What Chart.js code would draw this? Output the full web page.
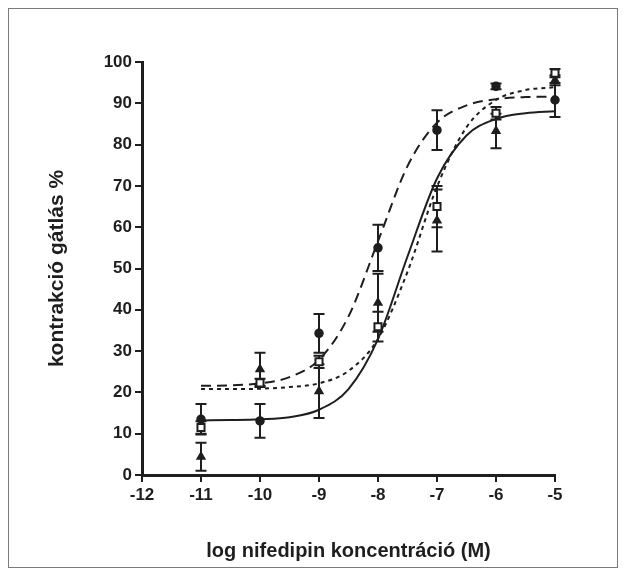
<!DOCTYPE html>
<html>
<head>
<meta charset="utf-8">
<script src="https://cdn.jsdelivr.net/npm/chart.js@4"></script>
<style>
html, body { margin: 0; padding: 0; background: #fff; }
#wrap { position: relative; width: 626px; height: 576px; }
#frame { position: absolute; left: 8px; top: 8px; width: 608px; height: 558px; border: 1px solid #7a7a7a; }
canvas { position: absolute; left: 0; top: 0; }
</style>
</head>
<body>
<div id="wrap">
  <div id="frame"></div>
  <canvas id="chart" width="626" height="576"></canvas>
</div>
<script>
// measured points (log M) with error bars
const concentrations = [-11, -10, -9, -8, -7, -6, -5];
const circleMean = [13.5, 13.1, 34.3, 55.0, 83.5, 94.1, 90.8];
const circleErr = [3.7, 4.1, 4.7, 5.6, 4.8, 0.7, 4.1];
const triangleMean = [4.4, 25.6, 20.3, 41.7, 61.6, 83.3, 95.6];
const triangleErr = [3.4, 4.0, 6.5, 7.0, 7.5, 4.2, 1.2];
const squareMean = [11.5, 22.3, 27.4, 35.9, 65.0, 87.6, 97.3];
const squareErr = [1.5, 1.0, 1.5, 3.6, 5.0, 1.5, 1.0];

// fitted curves
const curveX = [-11, -10.5, -10, -9.5, -9, -8.5, -8, -7.5, -7, -6.5, -6, -5.5, -5];
const solidCurve = [13.2, 13.3, 13.5, 14.0, 15.8, 20.8, 32.9, 52.9, 71.8, 82.2, 86.2, 87.6, 88.1];
const longDashCurve = [21.6, 21.7, 22.2, 23.7, 27.9, 38.4, 56.6, 74.8, 85.3, 89.5, 91.0, 91.5, 91.6];
const shortDashCurve = [20.8, 20.8, 20.9, 21.3, 22.2, 25.2, 33.0, 49.2, 69.8, 84.2, 90.8, 93.2, 93.9];

const ink = '#1e1e1e';
const fontFamily = '"Liberation Sans", Arial, Helvetica, sans-serif';

const toPoints = (xs, ys) => xs.map((x, i) => ({ x: x, y: ys[i] }));

const curve = (values, dash) => ({
    data: toPoints(curveX, values),
    showLine: true,
    borderColor: ink,
    borderWidth: 2,
    borderDash: dash,
    pointRadius: 0,
    cubicInterpolationMode: 'monotone',
    fill: false,
    order: 2
});

const markers = (values, errs, style, radius, bg, bw) => ({
    data: toPoints(concentrations, values),
    errors: errs,
    showLine: false,
    pointStyle: style,
    pointRadius: radius,
    pointBackgroundColor: bg,
    pointBorderColor: ink,
    pointBorderWidth: bw,
    clip: false,
    order: 0
});

// draws vertical error bars with caps under the markers
const errorBars = {
    id: 'errorBars',
    beforeDatasetsDraw(chart) {
        const { ctx, scales: { x, y } } = chart;
        ctx.save();
        ctx.strokeStyle = ink;
        ctx.lineWidth = 2;
        chart.data.datasets.forEach(ds => {
            if (!ds.errors) return;
            ds.data.forEach((p, i) => {
                const px = x.getPixelForValue(p.x);
                const top = y.getPixelForValue(p.y + ds.errors[i]);
                const bot = y.getPixelForValue(p.y - ds.errors[i]);
                ctx.beginPath();
                ctx.moveTo(px, top);
                ctx.lineTo(px, bot);
                ctx.moveTo(px - 5.5, top);
                ctx.lineTo(px + 5.5, top);
                ctx.moveTo(px - 5.5, bot);
                ctx.lineTo(px + 5.5, bot);
                ctx.stroke();
            });
        });
        ctx.restore();
    }
};

const ctx = document.getElementById('chart').getContext('2d');
const chart = new Chart(ctx, {
    type: 'scatter',
    data: {
        datasets: [
            markers(squareMean, squareErr, 'rect', 5, '#ffffff', 2),
            markers(triangleMean, triangleErr, 'triangle', 4.5, ink, 1.5),
            markers(circleMean, circleErr, 'circle', 4, ink, 1.5),
            curve(solidCurve, []),
            curve(longDashCurve, [10, 6]),
            curve(shortDashCurve, [4, 4])
        ]
    },
    options: {
        responsive: false,
        animation: false,
        layout: {
            padding: { left: 0, right: 71, top: 62, bottom: 0 }
        },
        plugins: {
            legend: { display: false },
            tooltip: { enabled: false }
        },
        scales: {
            x: {
                type: 'linear',
                min: -12,
                max: -5,
                afterFit: scale => { scale.height = 101; },
                ticks: {
                    stepSize: 1,
                    color: ink,
                    padding: 3,
                    font: { family: fontFamily, size: 17, weight: 'bold' }
                },
                grid: {
                    drawOnChartArea: false,
                    drawTicks: true,
                    tickLength: 7,
                    color: ink,
                    lineWidth: 2
                },
                border: { color: ink, width: 3 },
                title: {
                    display: true,
                    text: 'log nifedipin koncentráció (M)',
                    color: ink,
                    padding: { top: 0, bottom: 13 },
                    font: { family: fontFamily, size: 20, weight: 'bold' }
                }
            },
            y: {
                min: 0,
                max: 100,
                afterFit: scale => { scale.width = 142; },
                ticks: {
                    stepSize: 10,
                    color: ink,
                    padding: 3,
                    font: { family: fontFamily, size: 17, weight: 'bold' }
                },
                grid: {
                    drawOnChartArea: false,
                    drawTicks: true,
                    tickLength: 7,
                    color: ink,
                    lineWidth: 2
                },
                border: { color: ink, width: 3 },
                title: {
                    display: true,
                    text: 'kontrakció gátlás %',
                    color: ink,
                    padding: { top: 45, bottom: 0 },
                    font: { family: fontFamily, size: 21, weight: 'bold' }
                }
            }
        }
    },
    plugins: [errorBars]
});
</script>
</body>
</html>
